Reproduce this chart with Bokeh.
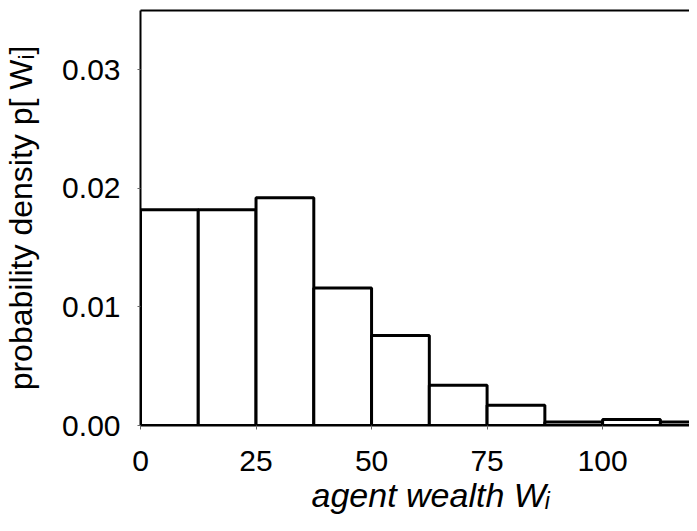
from bokeh.plotting import figure
from bokeh.models import Range1d, FixedTicker, LinearAxis, NumeralTickFormatter, Title
from bokeh.embed import file_html
from bokeh.resources import INLINE

# ---- data ----
bin_left = [0, 12.5, 25, 37.5, 50, 62.5, 75, 87.5, 100, 112.5]
bin_width = 12.5
density = [0.0182, 0.0182, 0.0192, 0.0116, 0.0076, 0.0034, 0.0017, 0.0003, 0.0005, 0.0003]
x_ticks = [0, 25, 50, 75, 100]
y_ticks = [0.0, 0.01, 0.02, 0.03]
x_title = "agent wealth W\u1d62"
y_title = "probability density p[ W\u1d62]"

bin_right = [b + bin_width for b in bin_left]
bottom = [0.0] * len(density)

FONT = "Liberation Sans"
X_END = 118.8
Y_END = 0.035

p = figure(width=689, height=523, output_backend="svg", toolbar_location=None,
           x_range=Range1d(0, X_END), y_range=Range1d(0, Y_END),
           min_border_left=136, min_border_right=0, min_border_top=10, min_border_bottom=98)
p.outline_line_color = None
p.xgrid.visible = False
p.ygrid.visible = False
p.background_fill_color = "white"
p.border_fill_color = "white"

p.quad(left=bin_left, right=bin_right, bottom=bottom, top=density,
       fill_color="white", line_color="black", line_width=3)

# x axis
xa = p.xaxis[0]
xa.ticker = FixedTicker(ticks=x_ticks)
xa.axis_line_width = 2
xa.axis_line_color = "black"
xa.major_tick_out = 4
xa.major_tick_in = 0
xa.major_tick_line_color = "#666666"
xa.minor_tick_line_color = None
xa.major_label_text_font = FONT
xa.major_label_text_font_size = "30px"
xa.major_label_text_color = "black"
xa.major_label_standoff = 21

# x title as a below-panel title, shifted right like the original
p.add_layout(Title(text=x_title, align="left", offset=171, standoff=0,
                   text_font=FONT, text_font_size="34px", text_font_style="italic",
                   text_color="black"), "below")

# y axis
ya = p.yaxis[0]
ya.ticker = FixedTicker(ticks=y_ticks)
ya.formatter = NumeralTickFormatter(format="0.00")
ya.axis_line_width = 2
ya.axis_line_color = "black"
ya.major_tick_out = 3
ya.major_tick_in = 0
ya.major_tick_line_color = "#666666"
ya.minor_tick_line_color = None
ya.major_label_text_font = FONT
ya.major_label_text_font_size = "30px"
ya.major_label_text_color = "black"
ya.major_label_standoff = 17
ya.axis_label = y_title
ya.axis_label_text_font = FONT
ya.axis_label_text_font_size = "32px"
ya.axis_label_text_font_style = "normal"
ya.axis_label_text_color = "black"
ya.axis_label_standoff = 20

# top frame line
top_axis = LinearAxis(ticker=FixedTicker(ticks=[]), axis_line_width=2, axis_line_color="black",
                      major_tick_line_color=None, minor_tick_line_color=None,
                      major_label_text_font_size="0px", major_label_standoff=0)
p.add_layout(top_axis, "above")

open("out.html", "w").write(file_html(p, INLINE))
